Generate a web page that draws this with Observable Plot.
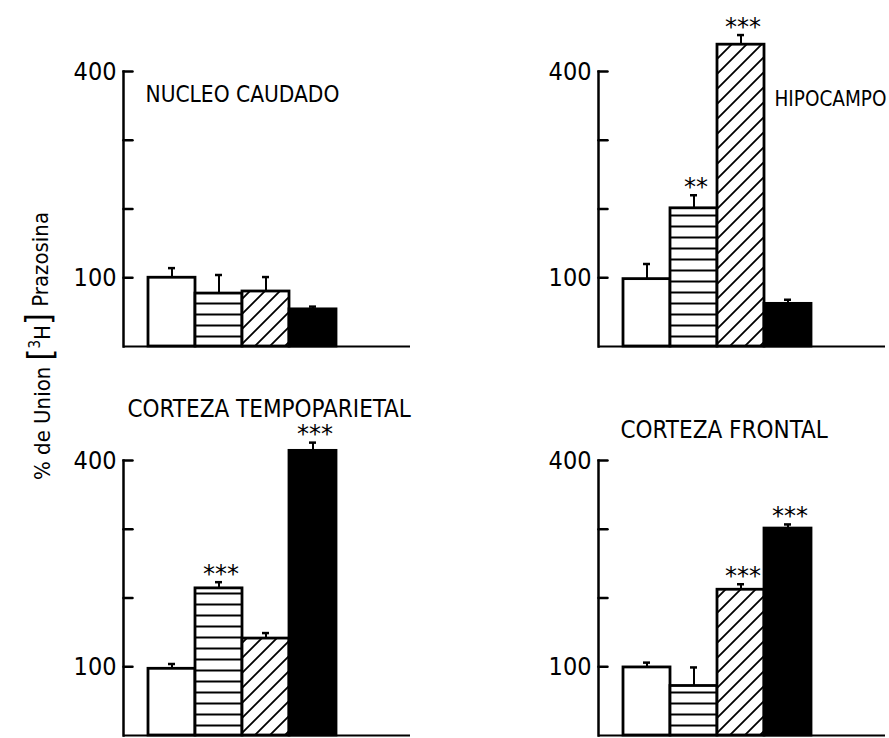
<!DOCTYPE html>
<html><head><meta charset="utf-8">
<script src="https://cdn.jsdelivr.net/npm/d3@7"></script>
<script src="https://cdn.jsdelivr.net/npm/@observablehq/plot@0.6"></script>
<style>
html,body{margin:0;padding:0;background:#fff;}
</style></head><body><div id="chart"></div>
<script>
// ---- data ----
const regions = ["NUCLEO CAUDADO", "HIPOCAMPO", "CORTEZA TEMPOPARIETAL", "CORTEZA FRONTAL"];
const panelColumn = ["izquierda", "derecha", "izquierda", "derecha"];
const panelRow = ["arriba", "arriba", "abajo", "abajo"];
const groups = ["Grupo 1", "Grupo 2", "Grupo 3", "Grupo 4"];

const nucleoCaudado = [100, 77, 80, 54];
const nucleoCaudadoSem = [14, 27, 21, 4];
const nucleoCaudadoSig = ["", "", "", ""];

const hipocampo = [98, 201, 439, 62];
const hipocampoSem = [22, 19, 14, 6];
const hipocampoSig = ["", "**", "***", ""];

const cortezaTempoparietal = [97, 214, 141, 414];
const cortezaTempoparietalSem = [7, 9, 8, 12];
const cortezaTempoparietalSig = ["", "***", "", "***"];

const cortezaFrontal = [99, 72, 212, 301];
const cortezaFrontalSem = [7, 27, 8, 6];
const cortezaFrontalSig = ["", "", "***", "***"];

const yTicks = [100, 200, 300, 400];
const yTickLabels = [100, 400];

// ---- table built from the arrays ----
const means = [nucleoCaudado, hipocampo, cortezaTempoparietal, cortezaFrontal];
const sems = [nucleoCaudadoSem, hipocampoSem, cortezaTempoparietalSem, cortezaFrontalSem];
const sigs = [nucleoCaudadoSig, hipocampoSig, cortezaTempoparietalSig, cortezaFrontalSig];
const rows = regions.flatMap((r, i) => groups.map((g, j) => ({
  region: r, col: panelColumn[i], row: panelRow[i], group: g,
  value: means[i][j], sem: sems[i][j], sig: sigs[i][j]
})));

// ---- styles ----
const fills = {"Grupo 1": "white", "Grupo 2": "url(#rayas)", "Grupo 3": "url(#diagonal)", "Grupo 4": "black"};
const titleOffsets = [[22, 15], [176, 20], [4, -61], [22, -40]];
const titleSizes = [22.5, 20.5, 24, 24];
const titleSpacing = [0, 0, 0, 0.6];
const narrow = "'DejaVu Sans Condensed', 'Liberation Sans Narrow', 'Liberation Sans', sans-serif";
const tickShape = {draw(context, l) { context.moveTo(0, 0); context.lineTo(0, -l); }};

const plot = Plot.plot({
  width: 889, height: 738,
  marginLeft: 123, marginRight: 4, marginTop: 70, marginBottom: 2,
  style: {fontFamily: narrow, background: "white", color: "black", overflow: "visible"},
  fx: {domain: ["izquierda", "derecha"], paddingInner: 0.396, paddingOuter: 0, axis: null},
  fy: {domain: ["arriba", "abajo"], paddingInner: 0.2923, paddingOuter: 0, axis: null},
  x: {domain: groups, paddingInner: 0, paddingOuter: 1, align: 0.25, axis: null},
  y: {domain: [0, 400], axis: null},
  color: {type: "identity"},
  marks: [
    Plot.barY(rows, {fx: "col", fy: "row", x: "group", y: "value", fill: d => fills[d.group], stroke: "black", strokeWidth: 2.8}),
    Plot.ruleX(rows, {fx: "col", fy: "row", x: "group", y1: "value", y2: d => d.value + d.sem, strokeWidth: 2}),
    Plot.tickY(rows, {fx: "col", fy: "row", x: "group", y: d => d.value + d.sem, insetLeft: 20, insetRight: 20, strokeWidth: 2.5}),
    Plot.text(rows.filter(d => d.sig), {fx: "col", fy: "row", x: "group", y: d => d.value + d.sem,
      text: "sig", dy: -8, dx: 2, fontSize: 24, letterSpacing: 4, fontFamily: "'DejaVu Sans', sans-serif"}),
    Plot.ruleY([0], {strokeWidth: 2}),
    Plot.frame({anchor: "left", strokeWidth: 2.5}),
    Plot.vector(yTicks, {y: d => d, frameAnchor: "left", anchor: "start", rotate: 90, length: 9, shape: tickShape, strokeWidth: 2.5}),
    Plot.axisY(yTicks, {tickSize: 0, tickPadding: 7, tickFormat: d => yTickLabels.includes(d) ? String(d) : "",
      facetAnchor: null, fontSize: 25, label: null}),
    ...regions.map((r, i) => Plot.text([r], {fx: [panelColumn[i]], fy: [panelRow[i]], text: d => d,
      frameAnchor: "top-left", textAnchor: "start", dx: titleOffsets[i][0], dy: titleOffsets[i][1],
      fontSize: titleSizes[i], letterSpacing: titleSpacing[i]}))
  ]
});

// patterns
const svg = d3.select(plot);
const defs = svg.insert("defs", ":first-child");
const p1 = defs.append("pattern").attr("id", "rayas").attr("patternUnits", "userSpaceOnUse").attr("width", 10).attr("height", 11);
p1.append("rect").attr("width", 10).attr("height", 11).attr("fill", "white");
p1.append("line").attr("x1", 0).attr("x2", 10).attr("y1", 5.5).attr("y2", 5.5).attr("stroke", "black").attr("stroke-width", 2);
const p2 = defs.append("pattern").attr("id", "diagonal").attr("patternUnits", "userSpaceOnUse").attr("width", 15).attr("height", 15);
p2.append("rect").attr("width", 15).attr("height", 15).attr("fill", "white");
p2.append("path").attr("d", "M0,15L15,0M-3.75,3.75L3.75,-3.75M11.25,18.75L18.75,11.25").attr("stroke", "black").attr("stroke-width", 1.8);

// y label
const lab = svg.append("text").attr("transform", "translate(50,346) rotate(-90)")
  .attr("text-anchor", "middle").attr("font-size", 22).attr("fill", "black")
  .attr("font-family", "'DejaVu Sans Condensed', 'Liberation Sans', sans-serif");
lab.append("tspan").text("% de Union ");
lab.append("tspan").attr("font-size", 34).attr("dy", 2).text("[");
lab.append("tspan").attr("font-size", 15).attr("dy", -12).text("3");
lab.append("tspan").attr("dy", 10).text("H");
lab.append("tspan").attr("font-size", 34).attr("dy", 0).text("]");
lab.append("tspan").attr("dy", -2).text(" Prazosina");

document.getElementById("chart").appendChild(plot);
</script></body></html>
